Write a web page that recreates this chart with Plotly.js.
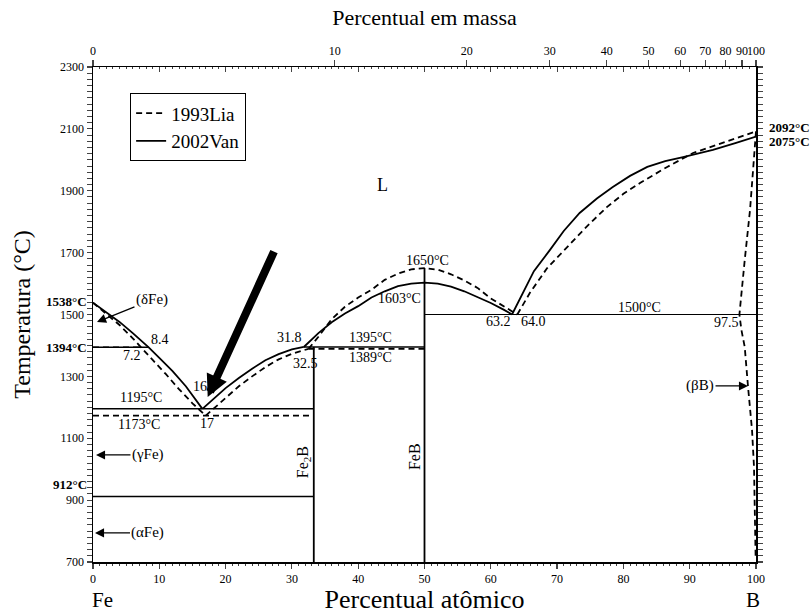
<!DOCTYPE html>
<html><head><meta charset="utf-8">
<script src="https://cdn.plot.ly/plotly-3.0.1.min.js"></script>
<style>html,body{margin:0;padding:0;background:#fff}</style>
</head><body>
<div id="chart" style="width:811px;height:614px"></div>
<script>
// ---------- data (atomic % B, temperature °C) ----------
const massTicks = [0,10,20,30,40,50,60,70,80,90,100];
const M_B = 10.81, M_Fe = 55.845;

// 1993Lia (dashed)
const liaLiqFe_x = [0,2,4,6,7.2,9,11,13,15,17];
const liaLiqFe_y = [1538,1503,1466,1423,1394,1353,1307,1258,1213,1173];
const liaArm_x = [17,18,20,22,24,26,28,30,32.5];
const liaArm_y = [1173,1192,1232,1268,1300,1330,1355,1373,1389];
const liaDome_x = [32.5,34,36,38,40,42,44,46,48,50,52,54,56,58,60,62,64];
const liaDome_y = [1389,1428,1485,1525,1555,1580,1612,1632,1646,1650,1645,1630,1610,1586,1552,1525,1500];
const liaLiqB_x = [64,65.9,68.5,71.5,74.5,77.5,80,82.5,86.6,90.5,94,97,100];
const liaLiqB_y = [1500,1570,1650,1718,1785,1847,1890,1925,1977,2022,2048,2070,2092];
const liaBeta_x = [100,99.8,99.5,99.1,98.3,97.7,97.5,97.8,98.3,98.8,99.4,99.7,99.85,99.95];
const liaBeta_y = [2092,2030,1967,1838,1676,1547,1500,1450,1395,1266,1127,1007,858,707];
const lia1394_x = [0,7.2],  lia1394_y = [1394,1394];
const lia1173_x = [0,33.3], lia1173_y = [1173,1173];
const lia1389_x = [32.5,50], lia1389_y = [1389,1389];

// 2002Van (solid)
const vanLiqFe_x = [0,2,4,6,8.4,10,12,14,16.5];
const vanLiqFe_y = [1538,1508,1476,1440,1394,1360,1317,1268,1195];
const vanArm_x = [16.5,18,20,22,24,26,28,30,31.8];
const vanArm_y = [1195,1225,1262,1295,1325,1352,1372,1387,1395];
const vanDome_x = [31.8,34,36,38,40,42,44,46,48,50,52,54,56,58,60,62,63.2];
const vanDome_y = [1395,1440,1475,1503,1527,1555,1575,1592,1600,1603,1600,1590,1575,1556,1537,1515,1500];
const vanLiqB_x = [63.2,64.9,66.5,68.9,71,73.4,76,78.4,81,83.6,86.3,89,93.5,97,100];
const vanLiqB_y = [1500,1570,1640,1708,1770,1828,1875,1912,1948,1977,1996,2009,2032,2055,2075];
const van1394_x = [0,8.4],  van1394_y = [1394,1394];
const van1195_x = [0,33.3], van1195_y = [1195,1195];
const van1395_x = [31.8,50], van1395_y = [1395,1395];
const line1500_x = [50,100], line1500_y = [1500,1500];
const line912_x = [0,33.3],  line912_y = [912,912];
const fe2b_x = [33.3,33.3], fe2b_y = [700,1395];
const feb_x = [50,50],      feb_y = [700,1650];

// mass % -> atomic % (for the top axis tick positions)
function massToAt(w){ if (w >= 100) return 100; const b = w/M_B, f = (100-w)/M_Fe; return 100*b/(b+f); }
const massPos = massTicks.map(massToAt);

const FONT = "Liberation Serif, Times New Roman, serif";
const dashStyle = "6px,4px";
const traces = [];
function add(x, y, dashed, name, show, w){
  traces.push({x:x, y:y, type:'scatter', mode:'lines', name:name, legendgroup:name,
    showlegend:!!show, hoverinfo:'skip',
    line:{color:'#000', width:w||1.8, dash: dashed ? dashStyle : 'solid'}});
}
add(liaLiqFe_x, liaLiqFe_y, true, '1993Lia', true);
add(liaArm_x, liaArm_y, true, '1993Lia');
add(liaDome_x, liaDome_y, true, '1993Lia');
add(liaLiqB_x, liaLiqB_y, true, '1993Lia');
add(liaBeta_x, liaBeta_y, true, '1993Lia');
add(lia1394_x, lia1394_y, true, '1993Lia', false, 1.6);
add(lia1173_x, lia1173_y, true, '1993Lia', false, 1.6);
add(lia1389_x, lia1389_y, true, '1993Lia', false, 1.6);
add(vanLiqFe_x, vanLiqFe_y, false, '2002Van', true);
add(vanArm_x, vanArm_y, false, '2002Van');
add(vanDome_x, vanDome_y, false, '2002Van');
add(vanLiqB_x, vanLiqB_y, false, '2002Van');
add(van1394_x, van1394_y, false, '2002Van', false, 1.5);
add(van1195_x, van1195_y, false, '2002Van', false, 1.5);
add(van1395_x, van1395_y, false, '2002Van', false, 1.5);
add(line1500_x, line1500_y, false, '2002Van', false, 1);
add(line912_x, line912_y, false, '2002Van', false, 1.5);
add(fe2b_x, fe2b_y, false, '2002Van', false, 1.8);
add(feb_x, feb_y, false, '2002Van', false, 1.8);

function lab(x, y, t, size, extra){
  return Object.assign({x:x, y:y, xref:'x', yref:'y', text:t, showarrow:false,
    font:{family:FONT, size:size||14, color:'#000'}}, extra||{});
}
function arr(x, y, t, ax, ay){
  return {x:x, y:y, xref:'x', yref:'y', text:t, showarrow:true, ax:ax, ay:ay,
    arrowhead:2, arrowsize:1.4, arrowwidth:1.3, arrowcolor:'#000', standoff:0,
    font:{family:FONT, size:15, color:'#000'}};
}
function side(x, y, t, anchor){
  return {x:x, y:y, xref:'paper', yref:'y', xanchor:anchor, text:'<b>'+t+'</b>', showarrow:false,
    font:{family:FONT, size:13, color:'#000'}};
}
const annotations = [
  lab(43.6, 1919, 'L', 18),
  lab(50.4, 1676, '1650°C'),
  lab(46.3, 1553, '1603°C'),
  lab(41.8, 1427, '1395°C'),
  lab(41.8, 1360, '1389°C'),
  lab(29.7, 1427, '31.8'),
  lab(32.1, 1343, '32.5'),
  lab(61.1, 1476, '63.2'),
  lab(66.4, 1476, '64.0'),
  lab(82.4, 1524, '1500°C'),
  lab(95.5, 1473, '97.5'),
  lab(10.1, 1420, '8.4'),
  lab(5.9, 1369, '7.2'),
  lab(16.2, 1268, '16'),
  lab(17.2, 1148, '17'),
  lab(7.2, 1232, '1195°C'),
  lab(6.9, 1143, '1173°C'),
  lab(31.7, 1023, 'Fe<sub>2</sub>B', 16, {textangle:-90}),
  lab(48.6, 1040, 'FeB', 16, {textangle:-90}),
  arr(0.6, 1476, '(δFe)', 55, -22),
  arr(0.45, 1046, '(γFe)', 52, 0),
  arr(0.3, 794, '(αFe)', 53, 0),
  arr(98.8, 1269, '(βB)', -48, 0),
  // big highlight arrow
  {x:17.3, y:1233, xref:'x', yref:'y', text:'', showarrow:true, ax:67, ay:-147,
   arrowhead:2, arrowsize:0.55, arrowwidth:8, arrowcolor:'#000', standoff:0},
  // bold temperature labels outside the plot
  side(-0.006, 1542, '1538°C', 'right'),
  side(-0.006, 1394, '1394°C', 'right'),
  side(-0.006, 950, '912°C', 'right'),
  side(1.016, 2106, '2092°C', 'left'),
  side(1.016, 2060, '2075°C', 'left'),
  {x:1.5, y:-0.105, xref:'x', yref:'paper', text:'Fe', showarrow:false,
   font:{family:FONT, size:21, color:'#000'}},
  {x:1.009, y:-0.105, xref:'paper', yref:'paper', text:'B', showarrow:false,
   font:{family:FONT, size:21, color:'#000'}}
];

const layout = {
  width:811, height:614,
  margin:{l:93, r:55, t:67, b:52},
  paper_bgcolor:'#fff', plot_bgcolor:'#fff',
  font:{family:FONT, color:'#000', size:12},
  showlegend:true,
  legend:{x:0.056, y:0.947, xanchor:'left', yanchor:'top', bgcolor:'#fff',
    bordercolor:'#000', borderwidth:1, font:{family:FONT, size:19, color:'#000'},
    tracegroupgap:0},
  xaxis:{range:[0,100], tick0:0, dtick:10, ticks:'outside', ticklen:5, tickwidth:1.2,
    showline:true, linewidth:1.5, linecolor:'#000', showgrid:false, zeroline:false,
    minor:{dtick:1, ticks:'outside', ticklen:2, tickwidth:1},
    tickfont:{family:FONT, size:12}, tickangle:0,
    title:{text:'Percentual atômico', font:{family:FONT, size:26}, standoff:6}},
  xaxis2:{overlaying:'x', side:'top', anchor:'y', range:[0,100], tickmode:'array',
    tickvals:massPos, ticktext:massTicks.map(String), ticks:'outside', ticklen:6, tickwidth:1.2,
    showline:true, linewidth:1.5, linecolor:'#000', showgrid:false, zeroline:false,
    tickfont:{family:FONT, size:12}, tickangle:0,
    title:{text:'Percentual em massa', font:{family:FONT, size:22}, standoff:12}},
  xaxis3:{overlaying:'x', side:'top', anchor:'y', range:[0,100], tick0:0, dtick:10,
    ticks:'inside', ticklen:5, tickwidth:1, showticklabels:false, showline:false,
    showgrid:false, zeroline:false,
    minor:{dtick:1, ticks:'inside', ticklen:2, tickwidth:1}},
  yaxis:{range:[700,2300], tick0:700, dtick:200, ticks:'outside', ticklen:5, tickwidth:1.2,
    showline:true, linewidth:1.5, linecolor:'#000', mirror:'allticks', showgrid:false, zeroline:false,
    minor:{dtick:20, ticks:'outside', ticklen:3, tickwidth:1},
    tickfont:{family:FONT, size:12},
    title:{text:'Temperatura (°C)', font:{family:FONT, size:24}, standoff:22}},
  annotations:annotations
};
// dummy traces to activate the top axes
traces.push({x:[0,100], y:[700,700], xaxis:'x2', yaxis:'y', mode:'lines', showlegend:false,
  hoverinfo:'skip', line:{width:0, color:'rgba(0,0,0,0)'}});
traces.push({x:[0,100], y:[700,700], xaxis:'x3', yaxis:'y', mode:'lines', showlegend:false,
  hoverinfo:'skip', line:{width:0, color:'rgba(0,0,0,0)'}});

Plotly.newPlot('chart', traces, layout, {staticPlot:true, displayModeBar:false});
</script>
</body></html>
